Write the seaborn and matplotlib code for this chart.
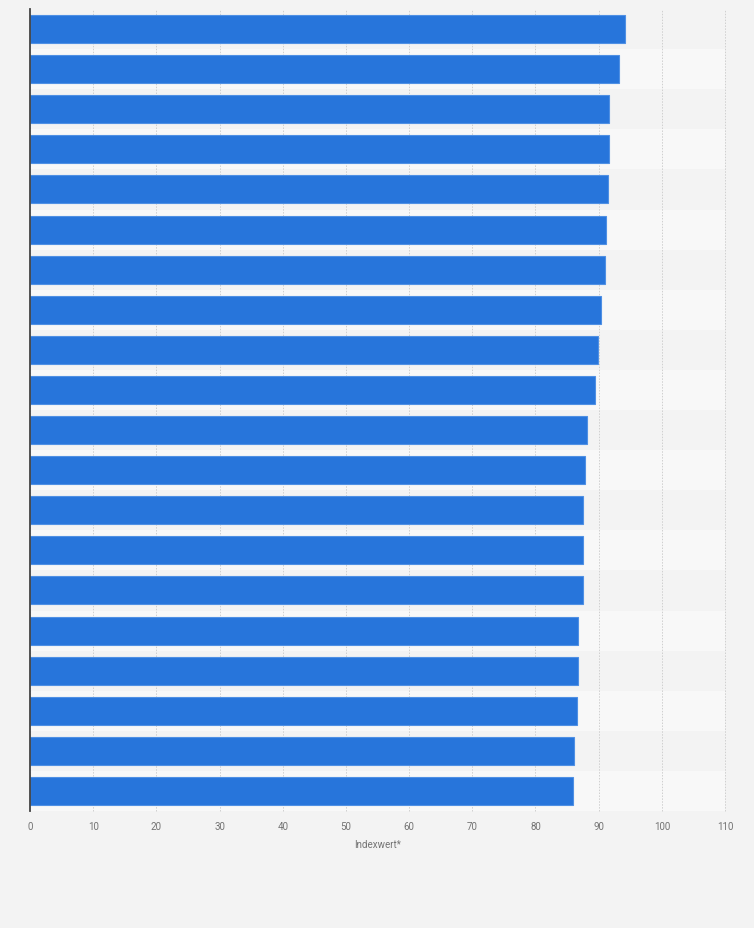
import pandas as pd
import seaborn as sns
import matplotlib.pyplot as plt

# Values (no category labels shown in the chart)
ranks = [str(i) for i in range(1, 21)]
index_values = [94.1, 93.3, 91.7, 91.7, 91.5, 91.2, 91.0, 90.4, 89.9, 89.4,
                88.2, 87.8, 87.5, 87.5, 87.5, 86.7, 86.7, 86.6, 86.1, 85.9]
x_ticks = [0, 10, 20, 30, 40, 50, 60, 70, 80, 90, 100, 110]

df = pd.DataFrame({'Rang': ranks, 'Indexwert': index_values})

bg = '#f3f3f3'
band = '#f8f8f8'
bar_color = '#2775db'

sns.set_theme(style='white')
plt.rcParams['font.family'] = ['Roboto', 'DejaVu Sans']

fig = plt.figure(figsize=(7.54, 9.29), dpi=100, facecolor=bg)
ax = fig.add_axes([30 / 754, 1 - 812 / 929, 695 / 754, 802 / 929])
ax.set_facecolor(bg)

ax = sns.barplot(data=df, x='Indexwert', y='Rang', order=ranks, orient='h',
                 color=bar_color, saturation=1, width=0.7,
                 edgecolor='#4f90e4', linewidth=0.8, errorbar=None, ax=ax, zorder=2)

# alternating row bands
for i in range(len(ranks)):
    if i % 2 == 1:
        ax.axhspan(i - 0.5, i + 0.5, color=band, zorder=0, lw=0)

ax.set_xlim(0, 110)
ax.set_ylim(len(ranks) - 0.5, -0.5)
ax.set_xticks(x_ticks)
ax.set_xticklabels([str(t) for t in x_ticks])
ax.set_yticks([])
ax.set_ylabel('')
ax.set_xlabel('Indexwert*', fontsize=7, color='#737373', labelpad=6)

ax.set_axisbelow(True)
ax.xaxis.grid(True, linestyle=(0, (1.5, 1.5)), color='#cfcfcf', linewidth=0.7, zorder=0.5)
ax.yaxis.grid(False)
for gl in ax.get_xgridlines():
    gl.set_clip_on(False)

ax.tick_params(axis='x', length=0, pad=7, labelsize=7, labelcolor='#737373')

for side in ['top', 'right', 'bottom']:
    ax.spines[side].set_visible(False)
ax.spines['left'].set_color('#444444')
ax.spines['left'].set_linewidth(1.3)
ax.spines['left'].set_zorder(3)

plt.savefig('out.png', dpi=100, facecolor=bg)
plt.close()
